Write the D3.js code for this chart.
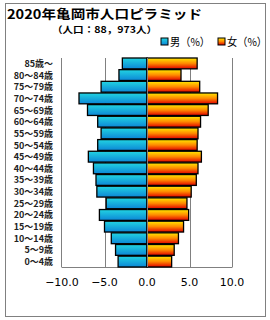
<!DOCTYPE html>
<html>
<head>
<meta charset="utf-8">
<script src="https://cdn.jsdelivr.net/npm/d3@7"></script>
<style>
  body { margin: 0; background: #fff; }
  text { font-family: "Noto Sans CJK JP", sans-serif; }
</style>
</head>
<body>
<div id="chart"></div>
<script>
// age groups, top to bottom
var ages = ["85歳～", "80～84歳", "75～79歳", "70～74歳", "65～69歳", "60～64歳",
  "55～59歳", "50～54歳", "45～49歳", "40～44歳", "35～39歳", "30～34歳",
  "25～29歳", "20～24歳", "15～19歳", "10～14歳", "5～9歳", "0～4歳"]
var male = [2.9, 3.3, 5.4, 8.0, 7.0, 5.8, 5.4, 5.8, 6.9, 6.3, 6.0, 5.9,
  4.8, 5.6, 5.0, 4.2, 3.7, 3.4]
var female = [5.9, 4.0, 6.2, 8.3, 7.2, 6.3, 6.0, 5.9, 6.4, 6.0, 5.8, 5.2,
  4.7, 4.9, 4.3, 3.7, 3.2, 2.9]
var ticks = [-10, -5, 0, 5, 10]

var width = 270
var height = 320

var svg = d3.select("#chart")
  .append("svg")
  .attr("width", width)
  .attr("height", height)

// gradients
var defs = svg.append("defs")
var gm = defs.append("linearGradient").attr("id", "gm")
  .attr("x1", 0).attr("y1", 0).attr("x2", 0).attr("y2", 1)
gm.append("stop").attr("offset", "0%").attr("stop-color", "#22d4e2")
gm.append("stop").attr("offset", "100%").attr("stop-color", "#0c86d6")
var gf = defs.append("linearGradient").attr("id", "gf")
  .attr("x1", 0).attr("y1", 0).attr("x2", 0).attr("y2", 1)
gf.append("stop").attr("offset", "0%").attr("stop-color", "#ffe800")
gf.append("stop").attr("offset", "50%").attr("stop-color", "#ff8a00")
gf.append("stop").attr("offset", "100%").attr("stop-color", "#e00000")

// outer frame
svg.append("rect")
  .attr("x", 5.5).attr("y", 3.5)
  .attr("width", 260).attr("height", 313)
  .attr("fill", "none")
  .attr("stroke", "#808080")

// title
svg.append("text")
  .attr("x", 7).attr("y", 18.5)
  .style("font-size", "12.5px").style("font-weight", "bold")
  .attr("textLength", 195)
  .attr("lengthAdjust", "spacingAndGlyphs")
  .text("2020年亀岡市人口ピラミッド")
svg.append("text")
  .attr("x", 52).attr("y", 33)
  .style("font-size", "9px").style("font-weight", "bold")
  .attr("textLength", 105)
  .attr("lengthAdjust", "spacingAndGlyphs")
  .text("（人口：88，973人）")

// legend
var legend = [
  { label: "男（%）", fill: "url(#gm)", x: 161 },
  { label: "女（%）", fill: "url(#gf)", x: 218 }
]
var lg = svg.selectAll(".lg")
  .data(legend)
  .enter()
  .append("g")
  .attr("transform", function(d) { return "translate(" + d.x + ",38)" })
lg.append("rect")
  .attr("width", 7).attr("height", 7)
  .attr("fill", function(d) { return d.fill })
  .attr("stroke", "black")
lg.append("text")
  .attr("x", 9).attr("y", 7.5)
  .style("font-size", "11px")
  .attr("textLength", 40)
  .attr("lengthAdjust", "spacingAndGlyphs")
  .text(function(d) { return d.label })

// scales
var x = d3.scaleLinear().domain([-10, 10]).range([62, 232])
var y = d3.scaleBand().domain(ages).range([58, 267]).paddingInner(0.07)

// plot frame lines
svg.append("line")
  .attr("x1", 61.5).attr("x2", 61.5).attr("y1", 58).attr("y2", 267)
  .attr("stroke", "#808080")
svg.append("line")
  .attr("x1", 61.5).attr("x2", 232.5).attr("y1", 267.5).attr("y2", 267.5)
  .attr("stroke", "#808080")

// gridlines
svg.selectAll(".grid")
  .data(ticks.filter(function(d) { return d > -10 }))
  .enter()
  .append("line")
  .attr("x1", function(d) { return Math.round(x(d)) + 0.5 })
  .attr("x2", function(d) { return Math.round(x(d)) + 0.5 })
  .attr("y1", 58).attr("y2", 267)
  .attr("stroke", "#808080")

// bars
svg.selectAll(".m")
  .data(male)
  .enter()
  .append("rect")
  .attr("x", function(d) { return x(-d) })
  .attr("y", function(d, i) { return y(ages[i]) })
  .attr("width", function(d) { return x(0) - x(-d) })
  .attr("height", y.bandwidth())
  .attr("fill", "url(#gm)")
  .attr("stroke", "black")
  .attr("stroke-width", 1.3)

svg.selectAll(".f")
  .data(female)
  .enter()
  .append("rect")
  .attr("x", x(0))
  .attr("y", function(d, i) { return y(ages[i]) })
  .attr("width", function(d) { return x(d) - x(0) })
  .attr("height", y.bandwidth())
  .attr("fill", "url(#gf)")
  .attr("stroke", "black")
  .attr("stroke-width", 1.3)

// zero line over bars
svg.append("line")
  .attr("x1", Math.round(x(0)) + 0.5).attr("x2", Math.round(x(0)) + 0.5)
  .attr("y1", 58).attr("y2", 267)
  .attr("stroke", "#808080")

// category labels
svg.selectAll(".cat")
  .data(ages)
  .enter()
  .append("text")
  .attr("x", 53)
  .attr("y", function(d) { return y(d) + y.bandwidth() / 2 + 3.5 })
  .attr("text-anchor", "end")
  .style("font-size", "9px")
  .style("font-weight", "bold")
  .style("fill", "#222")
  .text(function(d) { return d })

// x tick labels
svg.selectAll(".tick")
  .data(ticks)
  .enter()
  .append("text")
  .attr("x", function(d) { return x(d) })
  .attr("y", 286)
  .attr("text-anchor", "middle")
  .style("font-size", "11px")
  .style("font-family", "'DejaVu Sans', sans-serif")
  .text(function(d) { return d3.format(".1f")(d).replace("-", "−") })
</script>
</body>
</html>
